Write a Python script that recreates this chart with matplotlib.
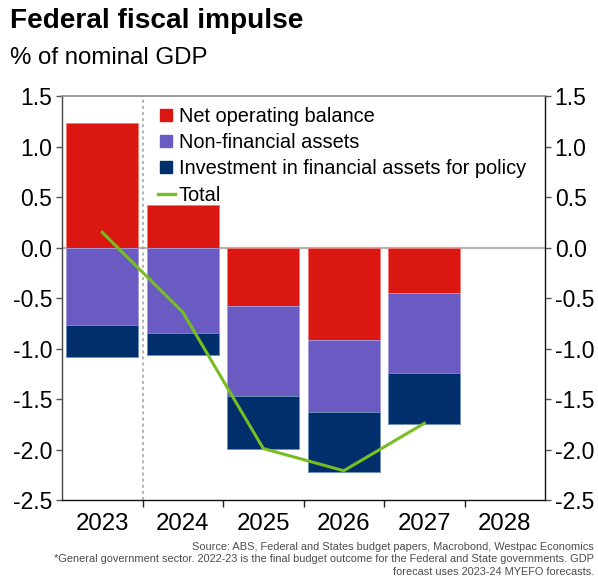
import numpy as np
import matplotlib
matplotlib.use("Agg")
import matplotlib.pyplot as plt
from matplotlib.lines import Line2D

plt.rcParams["font.family"] = ["Liberation Sans", "DejaVu Sans"]

# Data (% of nominal GDP)
years = ["2023", "2024", "2025", "2026", "2027", "2028"]
net_operating_balance = [1.23, 0.42, -0.58, -0.92, -0.45, np.nan]
non_financial_assets = [-0.77, -0.85, -0.89, -0.71, -0.79, np.nan]
financial_assets_policy = [-0.31, -0.21, -0.52, -0.59, -0.51, np.nan]
total = [0.15, -0.64, -1.99, -2.21, -1.74]
y_ticks = [1.5, 1.0, 0.5, 0.0, -0.5, -1.0, -1.5, -2.0, -2.5]

RED = "#da1710"
PURPLE = "#695bc1"
NAVY = "#002f6c"
GREEN = "#78be20"

fig = plt.figure(figsize=(5.98, 5.79), dpi=100)
ax = fig.add_axes([0.1037, 0.1364, 0.8077, 0.6978])

x = np.arange(len(years))
nob = np.array(net_operating_balance, dtype=float)
nfa = np.array(non_financial_assets, dtype=float)
inv = np.array(financial_assets_policy, dtype=float)

# Stack positives upward and negatives downward; skip years with no data
has_data = ~np.isnan(nob)
pos_base = np.zeros(len(years))
neg_base = np.zeros(len(years))
series = [(nob, RED, "#f07a74"), (nfa, PURPLE, "#a49bdc"), (inv, NAVY, "#6f8fb8")]
for vals, col, edge in series:
    v = np.nan_to_num(vals)
    base = np.where(v >= 0, pos_base, neg_base)
    ax.bar(x[has_data], v[has_data], bottom=base[has_data], width=0.9,
           color=col, edgecolor=edge, linewidth=0.6, zorder=2)
    pos_base = pos_base + np.where(v >= 0, v, 0)
    neg_base = neg_base + np.where(v < 0, v, 0)

ax.plot(x[:len(total)], total, color=GREEN, lw=2.2, zorder=4,
        solid_joinstyle="miter")

ax.axhline(0, color="#b3b3b3", lw=1.6, zorder=1)
ax.axvline(0.5, color="#a0a0a0", lw=1.1, ls=(0, (2, 2)), zorder=1)

ax.set_xlim(-0.5, 5.5)
ax.set_ylim(-2.5, 1.5)
ax.set_yticks(y_ticks)
ax.set_yticklabels([f"{t:.1f}" for t in y_ticks])
ax.set_xticks(x)
ax.set_xticklabels(years)
ax.set_xticks(np.arange(0.5, 5.0, 1.0), minor=True)

ax.tick_params(axis="x", which="major", length=0, pad=9, labelsize=17.3)
ax.tick_params(axis="x", which="minor", length=5, width=1, color="#222222",
               direction="out")
ax.tick_params(axis="y", which="major", length=4, width=1, color="#555555",
               labelsize=16.5, pad=3, right=True, labelright=True)

ax.spines["top"].set_color("#8c8c8c")
ax.spines["top"].set_linewidth(1.2)
ax.spines["left"].set_color("#444444")
ax.spines["right"].set_color("#111111")
ax.spines["bottom"].set_color("#111111")
for s in ("left", "right", "bottom"):
    ax.spines[s].set_linewidth(1.0)

handles = [
    Line2D([], [], marker="s", ls="none", markersize=8, color=RED),
    Line2D([], [], marker="s", ls="none", markersize=8, color=PURPLE),
    Line2D([], [], marker="s", ls="none", markersize=8, color=NAVY),
    Line2D([], [], color=GREEN, lw=2.4),
]
labels = ["Net operating balance", "Non-financial assets",
          "Investment in financial assets for policy", "Total"]
leg = ax.legend(handles, labels, loc="upper left",
                bbox_to_anchor=(0.175, 1.0), frameon=False, fontsize=14.4,
                handlelength=0.85, handletextpad=0.2, labelspacing=0.36,
                borderaxespad=0.35, borderpad=0.2)
leg.set_zorder(5)

fig.text(0.017, 0.951, "Federal fiscal impulse", fontsize=20.2,
         fontweight="bold", ha="left", va="baseline")
fig.text(0.017, 0.889, "% of nominal GDP", fontsize=17.3,
         ha="left", va="baseline")

footer_lines = [
    "Source: ABS, Federal and States budget papers, Macrobond, Westpac Economics",
    "*General government sector. 2022-23 is the final budget outcome for the Federal and State governments. GDP",
    "forecast uses 2023-24 MYEFO forecasts.",
]
for i, line in enumerate(footer_lines):
    fig.text(0.993, 1 - (550 + 12.5 * i) / 579, line, fontsize=7.9,
             color="#4d4d4d", ha="right", va="baseline")

fig.savefig("out.png", dpi=100)
